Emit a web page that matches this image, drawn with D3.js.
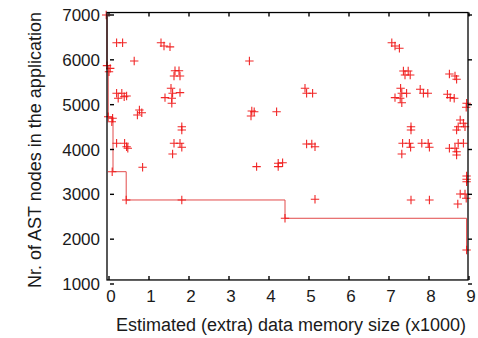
<!DOCTYPE html>
<html>
<head>
<meta charset="utf-8">
<script src="https://cdn.jsdelivr.net/npm/d3@7"></script>
<style>
  html, body { margin: 0; padding: 0; background: #fff; }
  text { font-family: "Liberation Sans", Arial, sans-serif; fill: #1a1a1a; }
</style>
</head>
<body>
<div id="chart"></div>
<script>
// Estimated (extra) data memory size, x1000
const memSize = [
  -0.07, -0.05, 0.03, 0.0, -0.02, 0.09, 0.07, 0.08,
  0.19, 0.34, 0.19, 0.32, 0.23, 0.38, 0.44, 0.19, 0.39, 0.44, 0.47, 0.43,
  0.63, 0.76, 0.71, 0.82, 0.84,
  1.30, 1.375, 1.525, 1.65, 1.75, 1.625, 1.775, 1.55, 1.59, 1.775, 1.40, 1.57, 1.57,
  1.82, 1.82, 1.625, 1.775, 1.82, 1.59, 1.82,
  3.51, 3.57, 3.63, 3.55, 4.19, 3.69, 4.23, 4.34, 4.23, 4.40,
  4.90, 4.94, 5.09, 4.94, 5.07, 5.15, 5.15,
  7.07, 7.15, 7.26, 7.36, 7.48, 7.40, 7.53, 7.29, 7.32, 7.44, 7.15, 7.28, 7.32,
  7.78, 7.86, 7.97, 8.46, 8.53, 8.63, 8.51, 8.65, 8.69,
  8.94, 8.93, 8.78, 8.86, 8.73, 8.90, 8.69, 7.55, 7.55,
  7.34, 7.51, 7.54, 7.32, 7.82, 7.98, 8.01, 8.51, 8.65, 8.69, 8.69, 8.73, 8.86,
  7.55, 8.01, 8.72, 8.78, 8.90, 8.93, 8.94, 8.94, 8.94, 8.94
];
// Nr. of AST nodes in the application
const astNodes = [
  7000, 5870, 5810, 5735, 4732, 4696, 4620, 3505,
  6380, 6380, 5254, 5254, 5142, 5178, 5194, 4138, 4138, 4063, 4027, 2874,
  5975, 4881, 4770, 4821, 3603,
  6380, 6310, 6290, 5758, 5758, 5640, 5640, 5365, 5254, 5268, 5156, 5142, 5031,
  4509, 4435, 4138, 4138, 4049, 3900, 2874,
  5975, 4859, 4843, 4747, 4843, 3617, 3692, 3706, 3617, 2466,
  5365, 5254, 5254, 4123, 4123, 4063, 2889,
  6382, 6309, 6258, 5751, 5751, 5662, 5662, 5365, 5254, 5254, 5156, 5142, 5044,
  5343, 5254, 5254, 5231, 5156, 5142, 5684, 5640, 5566,
  5031, 4942, 4658, 4585, 4509, 4509, 4435, 4509, 4435,
  4138, 4138, 4049, 3900, 4138, 4138, 4049, 4027, 4027, 3951, 3877, 4138, 4138,
  2874, 2874, 2785, 3008, 3008, 2912, 3409, 3335, 3280, 1758
];
// Pareto front (step line)
const frontX = [-0.07, -0.05, -0.02, 0.10, 0.43, 4.40, 8.94];
const frontY = [7000, 5870, 4720, 3505, 2874, 2466, 1758];

const xTicks = [0, 1, 2, 3, 4, 5, 6, 7, 8, 9];
const yTicks = [1000, 2000, 3000, 4000, 5000, 6000, 7000];

const width = 478, height = 338;

const svg = d3.select('#chart')
  .append('svg')
  .attr('width', width)
  .attr('height', height);

svg.append('rect').attr('width', width).attr('height', height).attr('fill', '#fff');

const x = d3.scaleLinear().domain([0, 9]).range([109, 469]);
const y = d3.scaleLinear().domain([1000, 7000]).range([284, 15]);

// frame edges
const frameL = x(-0.05), frameR = x(8.975);
const frameT = y(7055), frameB = y(1090);

const points = memSize.map((v, i) => ({ x: v, y: astNodes[i] }));
const front = frontX.map((v, i) => ({ x: v, y: frontY[i] }));

// step line
const line = d3.line()
  .x(d => x(d.x))
  .y(d => y(d.y))
  .curve(d3.curveStepAfter);

svg.append('path')
  .datum(front)
  .attr('d', line)
  .attr('fill', 'none')
  .attr('stroke', '#e24a4a')
  .attr('stroke-width', 1);

// markers
svg.append('g')
  .selectAll('path')
  .data(points)
  .enter()
  .append('path')
  .attr('transform', d => `translate(${x(d.x)},${y(d.y)})`)
  .attr('d', 'M-4.2,0H4.2M0,-4.2V4.2')
  .attr('stroke', '#f01010')
  .attr('stroke-opacity', 0.9)
  .attr('stroke-width', 1.1)
  .attr('fill', 'none');

// frame
svg.append('rect')
  .attr('x', frameL)
  .attr('y', frameT)
  .attr('width', frameR - frameL)
  .attr('height', frameB - frameT)
  .attr('fill', 'none')
  .attr('stroke', '#000')
  .attr('stroke-width', 1.3);

// ticks, pointing inward
const ticks = svg.append('g').attr('stroke', '#000').attr('stroke-width', 1.4);
xTicks.forEach(t => {
  ticks.append('line').attr('x1', x(t)).attr('x2', x(t)).attr('y1', frameB).attr('y2', frameB - 4);
  ticks.append('line').attr('x1', x(t)).attr('x2', x(t)).attr('y1', frameT).attr('y2', frameT + 4);
});
yTicks.forEach(t => {
  ticks.append('line').attr('x1', frameL + 3).attr('x2', frameL + 7).attr('y1', y(t)).attr('y2', y(t));
  ticks.append('line').attr('x1', frameR).attr('x2', frameR + 4).attr('y1', y(t)).attr('y2', y(t));
});

// tick labels
svg.append('g')
  .selectAll('text')
  .data(xTicks)
  .enter()
  .append('text')
  .attr('x', d => x(d) + 2)
  .attr('y', 302)
  .attr('text-anchor', 'middle')
  .style('font-size', '17px')
  .text(d => d);

svg.append('g')
  .selectAll('text')
  .data(yTicks)
  .enter()
  .append('text')
  .attr('x', 100)
  .attr('y', d => y(d) + 6)
  .attr('text-anchor', 'end')
  .style('font-size', '17px')
  .text(d => d);

// axis titles
svg.append('text')
  .attr('x', 291)
  .attr('y', 331)
  .attr('text-anchor', 'middle')
  .style('font-size', '18px')
  .text('Estimated (extra) data memory size (x1000)');

svg.append('text')
  .attr('transform', 'translate(41,150) rotate(-90)')
  .attr('text-anchor', 'middle')
  .style('font-size', '18px')
  .text('Nr. of AST nodes in the application');
</script>
</body>
</html>
